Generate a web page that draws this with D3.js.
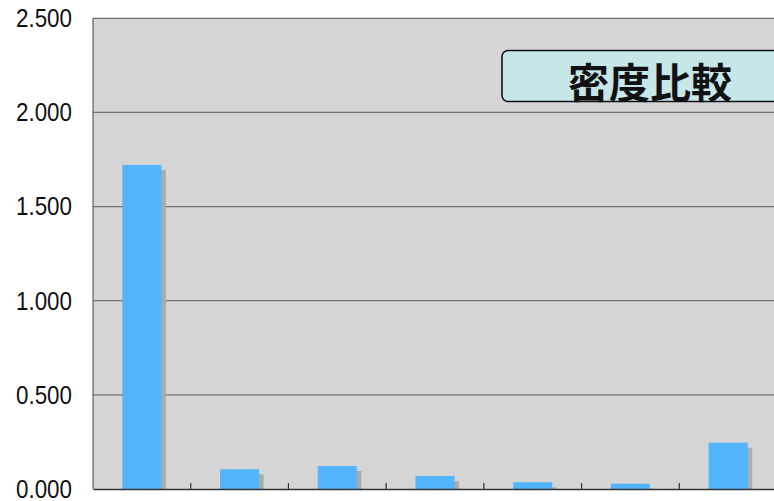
<!DOCTYPE html>
<html><head><meta charset="utf-8">
<script src="https://cdn.jsdelivr.net/npm/d3@7"></script>
<style>body{margin:0;background:#fff;} svg{display:block;}</style>
</head><body>
<svg id="c" width="774" height="501"></svg>
<script>
const categories = ["1","2","3","4","5","6","7"];
const values = [1.721, 0.105, 0.122, 0.069, 0.036, 0.028, 0.246];
const yTicks = [0, 0.5, 1.0, 1.5, 2.0, 2.5];
const titleText = "密度比較";

const svg = d3.select("#c");
const L = 93, R = 777, T = 18.3, B = 489;
const x = d3.scaleBand().domain(categories).range([L, R]).paddingInner(0.6).paddingOuter(0.3);
const y = d3.scaleLinear().domain([0, 2.5]).range([B, T]);

svg.append("rect").attr("x", L).attr("y", T).attr("width", R - L).attr("height", B - T).attr("fill", "#d5d5d5");

// gridlines
svg.append("g").selectAll("line").data(yTicks.filter(d => d > 0)).join("line")
  .attr("x1", L).attr("x2", R).attr("y1", d => y(d)).attr("y2", d => y(d))
  .attr("stroke", "#707070").attr("stroke-width", 1.3);

// left border
svg.append("line").attr("x1", L).attr("x2", L).attr("y1", T).attr("y2", B).attr("stroke", "#6a6a6a").attr("stroke-width", 1.3);

// y axis labels
const yAxis = d3.axisLeft(y).tickValues(yTicks).tickFormat(d3.format(".3f")).tickSize(0).tickPadding(21);
const ya = svg.append("g").attr("transform", `translate(${L},0)`).call(yAxis);
ya.select(".domain").remove();
ya.selectAll("text").attr("font-family", "'Liberation Sans', Arial, sans-serif")
  .attr("font-size", 26).attr("fill", "#111")
  .attr("textLength", 56).attr("lengthAdjust", "spacingAndGlyphs");

// shadows
svg.append("g").selectAll("rect").data(values).join("rect")
  .attr("x", (d, i) => x(categories[i]) + 4.5).attr("y", d => y(d) + 5)
  .attr("width", x.bandwidth()).attr("height", d => B - y(d) - 5)
  .attr("fill", "#ababab");
// bars
svg.append("g").selectAll("rect").data(values).join("rect")
  .attr("x", (d, i) => x(categories[i])).attr("y", d => y(d))
  .attr("width", x.bandwidth()).attr("height", d => B - y(d))
  .attr("fill", "#52b4fc");

// bottom axis
const xAxis = d3.axisBottom(x).tickSize(0).tickFormat("");
const xa = svg.append("g").attr("transform", `translate(0,${B})`).call(xAxis);
xa.select(".domain").attr("stroke", "#333").attr("stroke-width", 1.6);
svg.append("g").selectAll("line").data(categories.slice(1)).join("line")
  .attr("x1", d => x(d) - x.step() * 0.3).attr("x2", d => x(d) - x.step() * 0.3)
  .attr("y1", B - 6).attr("y2", B).attr("stroke", "#333").attr("stroke-width", 1.2);

// title box
svg.append("rect").attr("x", 502).attr("y", 50.5).attr("width", 300).attr("height", 51).attr("rx", 6)
  .attr("fill", "#c6e6e8").attr("stroke", "#111").attr("stroke-width", 1.6);
svg.append("text").attr("x", 650).attr("y", 80).attr("text-anchor", "middle").attr("dominant-baseline", "central")
  .attr("font-family", "'Noto Sans CJK JP', sans-serif").attr("font-weight", "bold").attr("font-size", 41)
  .attr("fill", "#111").text(titleText);
</script>
</body></html>
